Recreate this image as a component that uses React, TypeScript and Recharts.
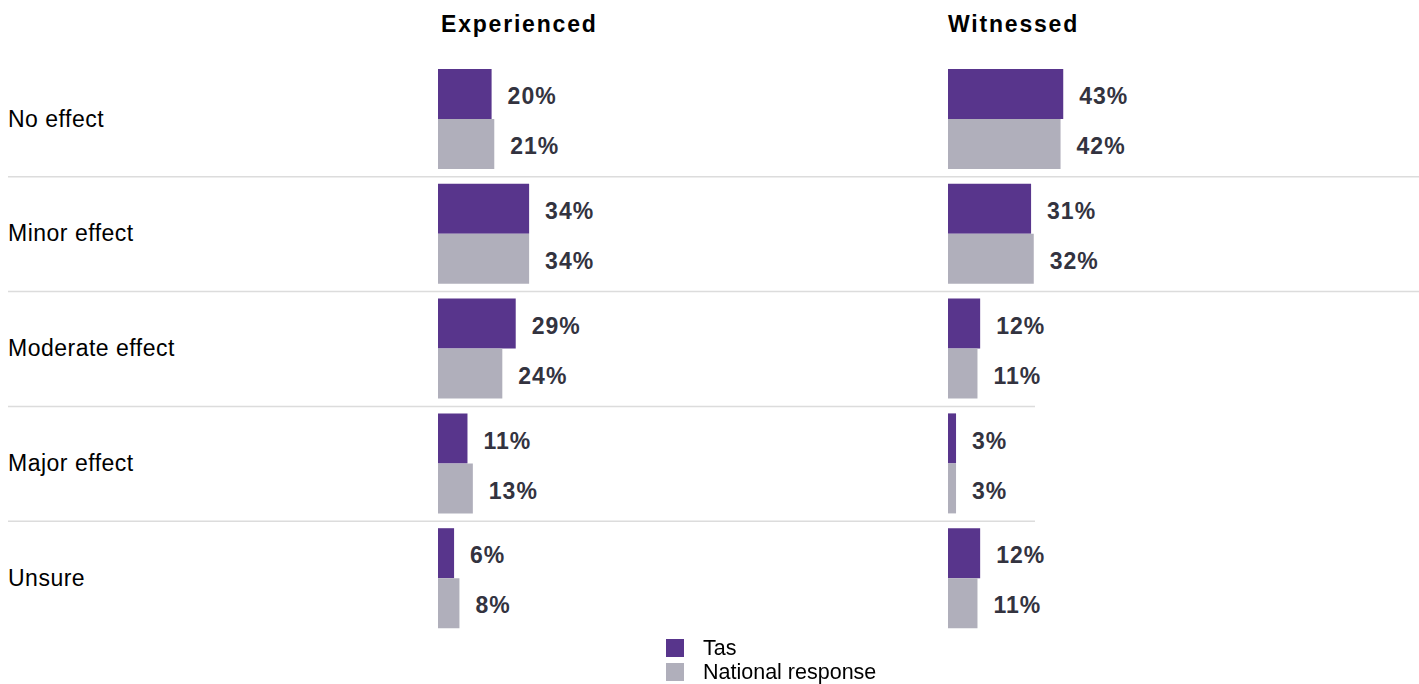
import React from 'react';
import { BarChart, Bar, XAxis, YAxis, CartesianGrid, Legend, LabelList, ReferenceLine } from 'recharts';

const categories = ['No effect', 'Minor effect', 'Moderate effect', 'Major effect', 'Unsure'];
const experiencedTas = [20, 34, 29, 11, 6];
const experiencedNational = [21, 34, 24, 13, 8];
const witnessedTas = [43, 31, 12, 3, 12];
const witnessedNational = [42, 32, 11, 3, 11];
const panelTitles = ['Experienced', 'Witnessed'];
const seriesNames = ['Tas', 'National response'];

const PURPLE = '#58358c';
const GREY = '#b0afbb';
const LABEL_INK = '#33333f';
const RULE = '#dcdcdc';
const FONT = '"Liberation Sans", Arial, Helvetica, sans-serif';
// the two lower rules stop short in the original
const SHORT_RULE_END = 1035;

const data = categories.map((name, i) => ({
  name,
  expTas: experiencedTas[i],
  expNat: experiencedNational[i],
  witTas: witnessedTas[i],
  witNat: witnessedNational[i],
}));

// rules sit on the edges between category bands
const rowEdges = ({ yAxis }: any) => {
  const scale = yAxis?.scale;
  if (!scale) return [];
  const at = typeof scale === 'function' ? scale : (v: string) => scale.map(v);
  return categories.slice(1).map((c) => at(c));
};

const Rule = (props: any) => {
  const { x1, y1, x2, y2, index } = props;
  return (
    <line x1={x1} y1={y1} x2={index >= 2 ? SHORT_RULE_END : x2} y2={y2} stroke={RULE} strokeWidth={1.5} />
  );
};

const panelTitle = (text: string, dx: number) => (props: any) => {
  const { viewBox } = props;
  return (
    <text x={viewBox.x + dx} y={viewBox.y - 30} fontSize={23} fontWeight="bold" letterSpacing={1.8} fill="#000">
      {text}
    </text>
  );
};

const LegendBox = (props: any) => {
  const items = (props.payload || [])
    .filter((p: any) => p.type !== 'none')
    .sort((a: any, b: any) => seriesNames.indexOf(a.value) - seriesNames.indexOf(b.value));
  return (
    <div>
      {items.map((p: any) => (
        <div key={p.value} style={{ display: 'flex', alignItems: 'center', height: 24, fontSize: 21.5, color: '#000' }}>
          <span style={{ display: 'inline-block', width: 18, height: 18, background: p.color, marginRight: 19 }} />
          {p.value}
        </div>
      ))}
    </div>
  );
};

const valueLabel = { fill: LABEL_INK, fontSize: 23, fontWeight: 'bold', letterSpacing: 1 } as const;
const pct = (v: any) => `${v}%`;

export default function App() {
  return (
    <div style={{ position: 'fixed', left: 0, top: 0, width: 1419, height: 684, background: '#fff', fontFamily: FONT }}>
      <BarChart
        width={1419}
        height={684}
        data={data}
        layout="vertical"
        margin={{ top: 62, right: 0, bottom: 0, left: 8 }}
        barGap={0}
      >
        <CartesianGrid
          xAxisId="exp"
          yAxisId="a"
          vertical={false}
          horizontal={Rule}
          horizontalCoordinatesGenerator={rowEdges}
        />
        <XAxis xAxisId="exp" type="number" domain={[0, 100]} hide padding={{ left: 430, right: 713 }} />
        <XAxis xAxisId="wit" type="number" domain={[0, 100]} hide padding={{ left: 940, right: 203 }} />
        <YAxis
          yAxisId="a"
          type="category"
          dataKey="name"
          mirror
          width={400}
          axisLine={false}
          tickLine={false}
          tickSize={0}
          tickMargin={0}
          tick={{ fill: '#000', fontSize: 23, letterSpacing: 0.5, dy: -1 }}
        />
        <YAxis yAxisId="b" type="category" dataKey="name" hide />

        <ReferenceLine xAxisId="exp" yAxisId="a" x={0} stroke="none" ifOverflow="visible" label={panelTitle(panelTitles[0], 3)} />
        <ReferenceLine xAxisId="wit" yAxisId="b" x={0} stroke="none" ifOverflow="visible" label={panelTitle(panelTitles[1], 0)} />

        <Bar xAxisId="exp" yAxisId="a" dataKey="expTas" name={seriesNames[0]} fill={PURPLE} barSize={50} isAnimationActive={false}>
          <LabelList dataKey="expTas" position="right" offset={16} formatter={pct} style={valueLabel} dy={2} />
        </Bar>
        <Bar xAxisId="exp" yAxisId="a" dataKey="expNat" name={seriesNames[1]} fill={GREY} barSize={50} isAnimationActive={false}>
          <LabelList dataKey="expNat" position="right" offset={16} formatter={pct} style={valueLabel} dy={2} />
        </Bar>
        <Bar xAxisId="wit" yAxisId="b" dataKey="witTas" name={seriesNames[0]} fill={PURPLE} barSize={50} legendType="none" isAnimationActive={false}>
          <LabelList dataKey="witTas" position="right" offset={16} formatter={pct} style={valueLabel} dy={2} />
        </Bar>
        <Bar xAxisId="wit" yAxisId="b" dataKey="witNat" name={seriesNames[1]} fill={GREY} barSize={50} legendType="none" isAnimationActive={false}>
          <LabelList dataKey="witNat" position="right" offset={16} formatter={pct} style={valueLabel} dy={2} />
        </Bar>

        <Legend layout="vertical" verticalAlign="bottom" align="center" content={LegendBox} wrapperStyle={{ left: 666 }} />
      </BarChart>
    </div>
  );
}
